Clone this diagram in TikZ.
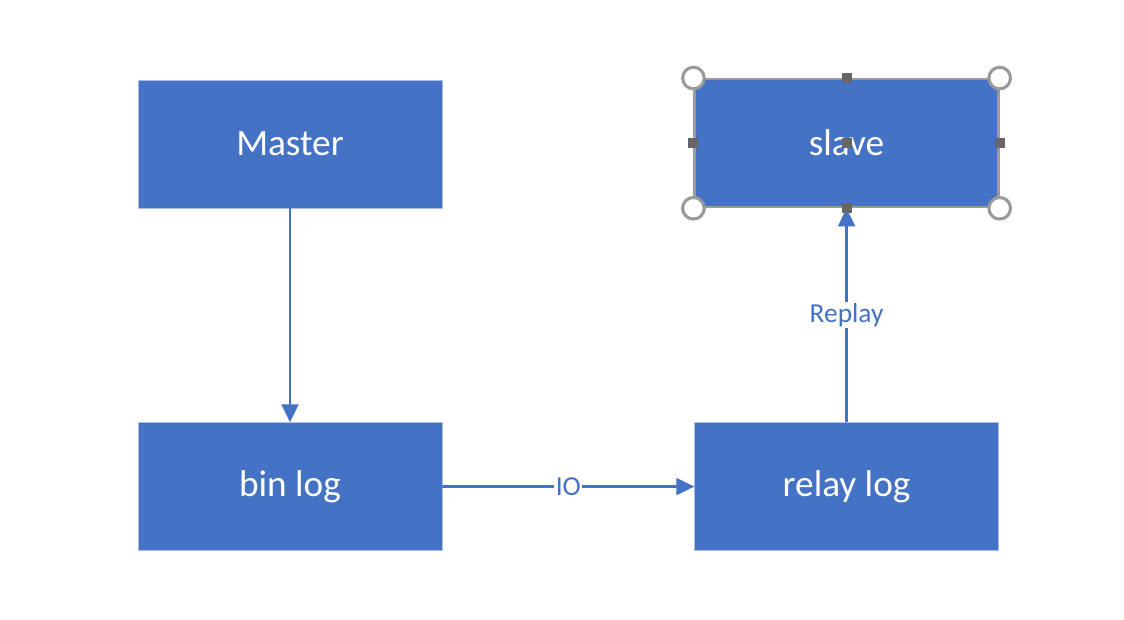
\documentclass[tikz,border=0pt]{standalone}
\usepackage{fontspec}
\setmainfont{Carlito}
\usetikzlibrary{positioning,arrows.meta}
\definecolor{boxblue}{HTML}{4472C4}
\definecolor{boxedge}{HTML}{A9BEE4}
\definecolor{selgray}{HTML}{9A9A9A}
\definecolor{knobgray}{HTML}{666666}
\tikzset{
  >={Triangle[length=0.45cm,width=0.42cm]},
  blok/.style={
    rectangle,
    fill=boxblue,
    draw=boxedge, thin,
    minimum width=7.6cm,
    minimum height=3.2cm,
    text=white,
    font=\fontsize{26.5}{30}\selectfont,
    inner sep=0pt},
  line/.style={draw=boxblue, line width=1.8pt, ->},
  lbl/.style={fill=white, text=boxblue, inner sep=1pt,
    font=\fontsize{19.5}{22}\selectfont},
  ring/.style={draw=selgray, line width=2.2pt, fill=white},
  knob/.style={fill=knobgray, minimum size=0.25cm, inner sep=0pt},
}
\begin{document}
\begin{tikzpicture}
  [node distance=5.35cm and 6.3cm]
\useasboundingbox (0,0) rectangle (28.1,-15.5);
\node[blok] (master) at (7.25,-3.6) {Master};
\node[blok, below=of master] (binlog) {bin log};
\node[blok, right=of binlog] (relaylog) {relay log};
\node[blok, above=of relaylog, draw=selgray, line width=1.6pt] (slave) {slave};
% arrows
\path[line] (master) -- (binlog);
\path[line] (binlog) -- node[lbl] (io) {IO} (relaylog);
\path[line] (relaylog) -- node[lbl, pos=0.5] (replay) {Replay} (slave);
% selection handles
\foreach \a in {north west,north east,south west,south east}
  \draw[ring] (slave.\a) circle (0.27cm);
\foreach \a in {north,south,east,west,center}
  \node[knob] at (slave.\a) {};
\end{tikzpicture}
\end{document}
